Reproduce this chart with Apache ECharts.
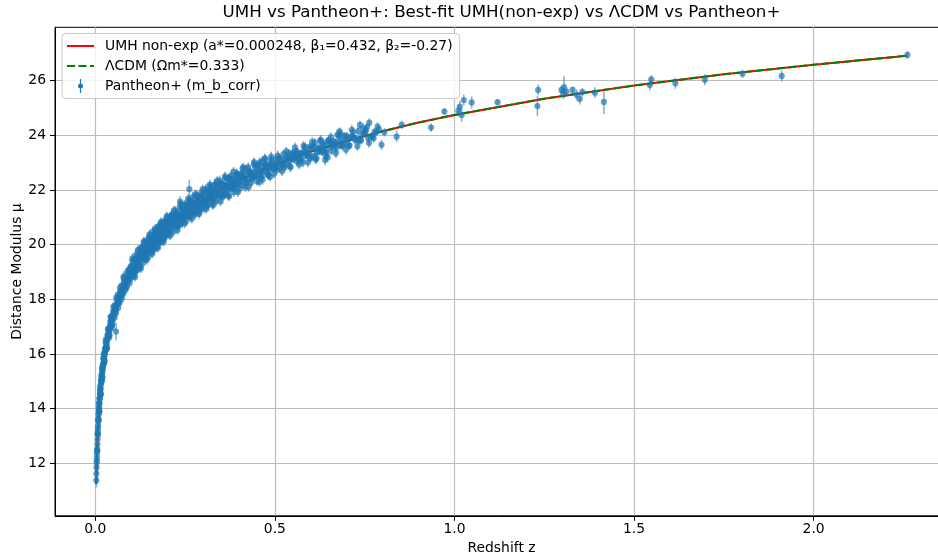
<!DOCTYPE html>
<html>
<head>
<meta charset="utf-8">
<script src="https://cdn.jsdelivr.net/npm/echarts@6/dist/echarts.min.js"></script>
<style>
  html, body { margin: 0; padding: 0; background: #ffffff; }
  #chart { width: 938px; height: 559px; }
</style>
</head>
<body>
<div id="chart"></div>
<script>
// Pantheon+ supernovae: [redshift z, m_b_corr, 1-sigma error]
const lowZ = [
  [0.0031,11.38,0.26],[0.0034,11.62,0.2],[0.0038,11.85,0.18],[0.0041,12.02,0.22],[0.0043,12.10,0.15],
  [0.0047,12.21,0.16],[0.0052,12.47,0.14],[0.0056,12.52,0.12],[0.0060,12.70,0.15],[0.0064,12.88,0.12],
  [0.0068,13.05,0.13],[0.0072,13.18,0.12],[0.0077,13.30,0.14],[0.0081,13.38,0.1],[0.0086,13.56,0.12],
  [0.0090,13.62,0.1],[0.0095,13.78,0.11],[0.0100,13.85,0.1],[0.0104,13.95,0.12],[0.0109,14.03,0.1],
  [0.0113,14.15,0.11],[0.0118,14.22,0.09],[0.0123,14.36,0.1],[0.0128,14.40,0.09],[0.0133,14.52,0.1],
  [0.0139,14.58,0.09],[0.0145,14.70,0.1],[0.0151,14.74,0.09],[0.0157,14.88,0.1],[0.0163,14.95,0.09],
  [0.0169,15.02,0.1],[0.0176,15.12,0.09],[0.0182,15.18,0.1],[0.0189,15.30,0.09],[0.0196,15.33,0.1],
  [0.0203,15.42,0.09],[0.0212,15.48,0.1],[0.0221,15.60,0.09],[0.0229,15.66,0.1],[0.0238,15.79,0.09],
  [0.0246,15.82,0.1],[0.0255,15.93,0.1],[0.0263,15.98,0.09],[0.0272,16.08,0.1],[0.0281,16.10,0.1],
  [0.0290,16.22,0.09],[0.0300,16.25,0.1],[0.0310,16.36,0.1],[0.0320,16.40,0.09],[0.0330,16.52,0.1],
  [0.0341,16.55,0.1],[0.0352,16.65,0.1],[0.0362,16.68,0.09],[0.0374,16.80,0.1],[0.0385,16.82,0.1],
  [0.0396,16.92,0.1],[0.0408,16.95,0.09],[0.0420,17.05,0.1],[0.0432,17.07,0.1],[0.0445,17.18,0.1],
  [0.0458,17.22,0.1],[0.0470,17.28,0.1],[0.0483,17.36,0.1],[0.0497,17.40,0.1],[0.0510,17.47,0.1],
  [0.0524,17.52,0.1],[0.0538,17.60,0.1],[0.0552,17.63,0.11],[0.0566,17.70,0.1],[0.0581,17.75,0.1],
  [0.0596,17.80,0.11],[0.0612,17.85,0.1],[0.0628,17.92,0.1],[0.0644,17.96,0.11],[0.0660,18.02,0.1],
  [0.0677,18.08,0.1],[0.0694,18.12,0.11],[0.0711,18.20,0.1],[0.0729,18.24,0.11],[0.0747,18.30,0.1],
  [0.0765,18.36,0.11],[0.0784,18.42,0.1],[0.0803,18.47,0.11],[0.0822,18.55,0.1],[0.0842,18.58,0.11],
  [0.0862,18.65,0.1],[0.0882,18.70,0.11],[0.0903,18.76,0.1],[0.0924,18.80,0.11],[0.0946,18.86,0.1],
  [0.0968,18.92,0.11],[0.0990,18.97,0.1],
  [0.011,13.92,0.12],[0.012,14.38,0.12],[0.014,14.50,0.11],[0.016,15.03,0.12],[0.018,14.99,0.11],
  [0.021,15.59,0.12],[0.024,15.65,0.11],[0.027,16.20,0.12],[0.031,16.18,0.11],[0.034,16.69,0.12],
  [0.038,16.66,0.12],[0.042,17.19,0.12],[0.046,17.05,0.13],[0.050,17.56,0.12],[0.055,17.48,0.13],
  [0.060,18.00,0.12],[0.065,17.83,0.13],[0.070,18.33,0.12],[0.075,18.16,0.13],[0.080,18.65,0.12],
  [0.085,18.43,0.13],[0.090,18.94,0.12],[0.095,18.73,0.13],[0.098,19.17,0.12],
  [0.013,14.66,0.14],[0.015,14.51,0.13],[0.017,15.22,0.14],[0.019,15.05,0.13],[0.022,15.84,0.14],
  [0.025,15.67,0.13],[0.029,16.43,0.14],[0.033,16.24,0.13],[0.036,16.89,0.14],[0.040,16.69,0.14],
  [0.044,17.37,0.14],[0.048,17.11,0.14],[0.053,17.76,0.15],[0.058,17.51,0.14],[0.063,18.17,0.15],
  [0.068,17.88,0.14],[0.073,18.49,0.15],[0.078,18.21,0.14],[0.083,18.81,0.15],[0.088,18.46,0.15],
  [0.093,19.07,0.15],[0.097,18.72,0.15],
  [0.0105,14.21,0.14],[0.0115,13.90,0.13],[0.0135,14.80,0.15],[0.0155,14.55,0.14],[0.0185,15.47,0.15],
  [0.0205,15.16,0.14],[0.0235,16.01,0.15],[0.0265,15.75,0.14],[0.0295,16.53,0.16],[0.0325,16.19,0.14],
  [0.0355,16.93,0.15],[0.0390,16.60,0.15],[0.0425,17.35,0.16],[0.0465,16.96,0.15],[0.0505,17.71,0.16],
  [0.0545,17.33,0.16],[0.0590,18.07,0.16],[0.0640,17.68,0.16],[0.0690,18.43,0.17],[0.0740,18.02,0.16],
  [0.0790,18.76,0.17],[0.0845,18.34,0.16],[0.0900,19.03,0.17],[0.0955,18.60,0.17],
  [0.0045,12.35,0.15],[0.0058,12.45,0.14],[0.0066,13.10,0.13],[0.0075,13.05,0.12],[0.0083,13.62,0.12],
  [0.0093,13.55,0.11],[0.0098,14.02,0.12],
  [0.058,16.82,0.32],[0.079,18.83,0.2]
];

const midZ = [
  [0.101,19.17,0.14],[0.103,18.89,0.15],[0.105,19.16,0.13],[0.107,19.07,0.14],[0.109,19.45,0.16],
  [0.111,19.02,0.15],[0.113,19.38,0.14],[0.115,19.30,0.13],[0.117,19.57,0.15],[0.119,19.27,0.14],
  [0.121,19.47,0.13],[0.123,19.22,0.16],[0.125,19.66,0.14],[0.127,19.46,0.13],[0.129,19.89,0.17],
  [0.131,19.58,0.14],[0.133,19.73,0.13],[0.135,19.50,0.15],[0.137,19.91,0.14],[0.139,19.63,0.13],
  [0.141,19.84,0.14],[0.143,19.59,0.16],[0.145,20.08,0.15],[0.147,19.82,0.13],[0.149,20.03,0.14],
  [0.151,19.78,0.15],[0.153,20.27,0.17],[0.155,20.00,0.13],[0.157,20.14,0.14],[0.159,19.87,0.15],
  [0.161,20.26,0.14],[0.163,20.02,0.13],[0.165,20.19,0.14],[0.167,19.90,0.16],[0.169,20.46,0.15],
  [0.171,20.19,0.13],[0.173,20.40,0.14],[0.175,20.15,0.15],[0.177,20.67,0.17],[0.179,20.28,0.13],
  [0.181,20.45,0.14],[0.183,20.19,0.15],[0.185,20.63,0.14],[0.187,20.35,0.13],[0.189,20.51,0.14],
  [0.191,20.25,0.16],[0.193,20.81,0.15],[0.195,20.53,0.13],[0.197,20.73,0.14],[0.199,20.43,0.15],
  [0.202,20.86,0.15],[0.205,20.61,0.13],[0.208,20.80,0.14],[0.211,20.51,0.16],[0.214,21.10,0.17],
  [0.217,20.69,0.14],[0.220,20.90,0.13],[0.223,20.69,0.15],[0.226,21.10,0.15],[0.229,20.91,0.13],
  [0.232,21.10,0.14],[0.235,20.73,0.16],[0.238,21.29,0.15],[0.241,20.99,0.13],[0.244,21.14,0.14],
  [0.247,20.97,0.15],[0.250,21.45,0.16],[0.253,21.14,0.13],[0.256,21.37,0.14],[0.259,21.04,0.15],
  [0.262,21.34,0.14],[0.265,21.19,0.14],[0.268,21.55,0.15],[0.271,21.35,0.13],[0.274,21.49,0.14],
  [0.277,21.17,0.16],[0.280,21.75,0.16],[0.283,21.38,0.13],[0.286,21.57,0.14],[0.289,21.37,0.15],
  [0.292,21.71,0.14],[0.295,21.53,0.13],[0.298,21.83,0.15],[0.301,21.43,0.15],[0.304,21.69,0.13],
  [0.307,21.60,0.14],[0.310,21.96,0.16],[0.313,21.45,0.16],[0.316,21.88,0.14],[0.319,21.76,0.13],
  [0.322,21.99,0.15],[0.325,21.68,0.14],[0.328,21.92,0.13],[0.331,21.64,0.15],[0.334,22.20,0.17],
  [0.337,21.84,0.13],[0.340,22.04,0.14],[0.344,21.78,0.15],[0.348,22.21,0.15],[0.352,21.99,0.13],
  [0.356,22.19,0.14],[0.360,21.81,0.16],[0.364,22.16,0.14],[0.368,22.02,0.13],[0.372,22.42,0.16],
  [0.376,22.13,0.14],[0.380,22.38,0.15],[0.384,22.05,0.15],[0.388,22.35,0.13],[0.392,22.20,0.14],
  [0.396,22.56,0.16],[0.400,22.19,0.15],[0.405,22.50,0.14],[0.410,22.17,0.16],[0.415,22.49,0.13],
  [0.420,22.76,0.16],[0.425,22.42,0.14],[0.430,22.69,0.15],[0.435,22.39,0.15],[0.440,22.62,0.13],
  [0.445,22.84,0.15],[0.450,22.52,0.14],[0.455,22.77,0.14],[0.460,22.47,0.16],[0.465,23.05,0.17],
  [0.470,22.71,0.13],[0.475,22.92,0.14],[0.480,22.65,0.15],[0.485,22.90,0.14],[0.490,23.11,0.15],
  [0.495,22.78,0.14],[0.500,22.95,0.13],[0.506,22.74,0.16],[0.512,23.17,0.15],[0.518,22.94,0.14],
  [0.524,23.31,0.16],[0.530,22.92,0.15],[0.536,23.18,0.14],[0.542,22.87,0.16],[0.548,23.30,0.15],
  [0.554,23.16,0.13],[0.560,23.42,0.15],[0.566,23.13,0.14],[0.572,23.32,0.14],[0.578,23.00,0.17],
  [0.584,23.58,0.16],[0.590,23.27,0.14],[0.596,23.49,0.14],[0.602,23.22,0.15],[0.608,23.60,0.15],
  [0.614,23.11,0.17],[0.620,23.50,0.13],[0.626,23.79,0.16],[0.632,23.38,0.14],[0.638,23.62,0.14],
  [0.644,23.35,0.16],[0.650,23.81,0.15],[0.657,23.58,0.14],[0.664,23.78,0.15],[0.671,23.51,0.15],
  [0.678,23.97,0.16],[0.685,23.64,0.14],[0.692,23.81,0.14],[0.700,23.98,0.15],[0.708,23.63,0.16],
  [0.716,23.95,0.14],[0.724,23.82,0.14],[0.732,24.15,0.16],[0.740,23.81,0.15],[0.748,24.11,0.15],
  [0.756,24.30,0.16],[0.763,24.46,0.16],[0.770,23.96,0.15],[0.778,24.13,0.14],[0.786,24.32,0.16],
  [0.102,19.07,0.13],[0.106,18.98,0.14],[0.110,19.42,0.15],[0.114,19.22,0.13],[0.118,19.50,0.14],
  [0.122,19.22,0.15],[0.126,19.80,0.16],[0.130,19.60,0.13],[0.134,19.81,0.14],[0.138,19.57,0.15],
  [0.142,19.89,0.14],[0.146,19.78,0.13],[0.150,20.26,0.17],[0.154,19.79,0.15],[0.158,20.11,0.14],
  [0.162,20.05,0.13],[0.166,20.37,0.15],[0.170,20.10,0.14],[0.174,20.33,0.13],[0.178,20.09,0.16],
  [0.182,20.64,0.15],[0.186,20.42,0.13],[0.190,20.61,0.14],[0.194,20.37,0.15],[0.198,20.77,0.15],
  [0.203,20.55,0.14],[0.209,21.01,0.16],[0.215,20.78,0.13],[0.221,20.99,0.14],[0.227,20.71,0.16],
  [0.233,21.06,0.14],[0.239,20.99,0.13],[0.245,21.34,0.15],[0.251,21.03,0.15],[0.257,21.25,0.13],
  [0.263,21.58,0.16],[0.269,21.16,0.15],[0.275,21.52,0.14],[0.281,21.42,0.13],[0.287,21.71,0.15],
  [0.293,21.30,0.16],[0.299,21.69,0.14],[0.305,21.55,0.14],[0.311,21.87,0.15],[0.317,21.69,0.13],
  [0.323,22.05,0.16],[0.329,21.68,0.15],[0.335,21.92,0.13],[0.341,21.85,0.14],[0.347,22.19,0.15],
  [0.353,21.81,0.16],[0.359,22.16,0.14],[0.365,22.09,0.13],[0.371,22.43,0.16],[0.377,22.05,0.15],
  [0.383,22.28,0.14],[0.389,22.09,0.15],[0.395,22.46,0.15],
  [0.403,22.32,0.14],[0.412,22.60,0.15],[0.422,22.29,0.15],[0.432,22.64,0.14],[0.442,22.47,0.14],
  [0.452,22.91,0.16],[0.462,22.70,0.13],[0.472,22.91,0.14],[0.482,22.56,0.16],[0.492,22.94,0.14],
  [0.503,22.81,0.14],[0.515,23.10,0.15],[0.527,22.82,0.16],[0.539,23.34,0.16],[0.551,23.12,0.14],
  [0.563,23.37,0.15],[0.575,23.12,0.15],[0.587,23.38,0.14],[0.599,23.15,0.16],[0.611,23.73,0.17],
  [0.623,23.40,0.14],[0.635,23.70,0.15],[0.647,23.19,0.18],[0.660,23.67,0.14],[0.674,24.02,0.17],
  [0.688,23.60,0.15],[0.702,23.89,0.14],[0.718,24.12,0.16],[0.735,23.82,0.15],[0.752,24.10,0.15],
  [0.775,23.89,0.16],[0.805,24.11,0.15],
  [0.104,19.39,0.16],[0.108,18.86,0.16],[0.112,19.62,0.17],[0.116,19.05,0.16],[0.120,19.76,0.17],
  [0.124,19.15,0.16],[0.128,19.88,0.17],[0.132,19.31,0.16],[0.136,20.08,0.18],[0.140,19.48,0.16],
  [0.144,20.17,0.17],[0.148,19.55,0.17],[0.152,20.31,0.17],[0.156,19.72,0.16],[0.160,20.48,0.18],
  [0.164,19.82,0.17],[0.168,20.51,0.17],[0.172,19.90,0.18],[0.176,20.67,0.17],[0.180,20.07,0.16],
  [0.184,20.76,0.17],[0.188,20.13,0.17],[0.192,20.86,0.17],[0.196,20.29,0.16],[0.200,20.99,0.18],
  [0.206,20.37,0.17],[0.212,21.08,0.17],[0.218,20.48,0.18],[0.224,21.25,0.17],[0.230,20.67,0.16],
  [0.236,21.41,0.18],[0.242,20.78,0.17],[0.248,21.46,0.17],[0.254,20.87,0.18],[0.260,21.60,0.17],
  [0.266,21.02,0.17],[0.272,21.75,0.18],[0.278,21.10,0.17],[0.284,21.81,0.17],[0.290,21.18,0.18],
  [0.296,21.90,0.17],[0.302,21.32,0.17],[0.308,22.04,0.18],[0.314,21.43,0.17],[0.320,22.13,0.17],
  [0.326,21.48,0.18],[0.332,22.19,0.17],[0.338,21.60,0.17],[0.346,22.35,0.18],[0.354,21.74,0.17],
  [0.362,22.43,0.17],[0.370,21.80,0.18],[0.378,22.52,0.17],[0.386,21.92,0.17],[0.394,22.61,0.18],
  [0.402,22.04,0.17],[0.410,22.77,0.18],[0.418,22.11,0.18],[0.426,22.84,0.17],[0.434,22.26,0.17],
  [0.442,22.95,0.18],[0.450,22.32,0.17],[0.458,23.01,0.18],[0.466,22.38,0.18],[0.474,23.12,0.17],
  [0.482,22.53,0.17],[0.490,23.22,0.18],[0.498,22.59,0.17],[0.508,23.26,0.18],[0.520,22.68,0.18],
  [0.532,23.41,0.17],[0.544,22.83,0.18],[0.556,23.56,0.18],[0.568,22.93,0.17],[0.580,23.61,0.18],
  [0.592,23.01,0.18],[0.604,23.76,0.18],[0.616,23.16,0.17],[0.628,23.83,0.18],[0.642,23.23,0.18],
  [0.656,23.93,0.18],[0.670,23.34,0.17],[0.684,24.03,0.18],[0.698,23.47,0.18],[0.714,24.20,0.18],
  [0.730,23.60,0.17],[0.746,24.24,0.18],[0.762,23.72,0.18],
  [0.100,19.22,0.14],[0.106,19.08,0.13],[0.112,19.04,0.14],[0.118,19.47,0.13],[0.124,19.50,0.14],
  [0.130,19.76,0.14],[0.136,19.57,0.13],[0.142,20.03,0.15],[0.148,19.86,0.13],[0.154,19.78,0.14],
  [0.160,20.18,0.14],[0.166,20.18,0.13],[0.172,20.42,0.15],[0.178,20.21,0.14],[0.184,20.65,0.15],
  [0.190,20.46,0.13],[0.196,20.37,0.14],[0.202,20.73,0.14],[0.208,20.72,0.13],[0.214,20.94,0.15],
  [0.220,20.72,0.14],[0.226,21.15,0.15],[0.232,20.94,0.13],[0.238,20.84,0.14],[0.244,21.20,0.14],
  [0.250,21.18,0.13],[0.256,21.38,0.15],[0.262,21.15,0.14],[0.268,21.57,0.15],[0.274,21.35,0.13],
  [0.280,21.24,0.14],[0.286,21.59,0.14],[0.292,21.56,0.13],[0.298,21.76,0.15],[0.304,21.52,0.14],
  [0.310,21.93,0.15],[0.316,21.71,0.13],[0.322,21.59,0.14],[0.328,21.93,0.14],[0.334,21.90,0.13],
  [0.340,22.09,0.15],[0.346,21.85,0.14],[0.352,22.25,0.15],[0.358,22.02,0.13],[0.364,21.89,0.14],
  [0.370,22.23,0.14],[0.376,22.19,0.13],[0.382,22.38,0.15],[0.388,22.13,0.14],[0.394,22.53,0.15],
  [0.400,22.30,0.14],
  [0.406,22.59,0.15],[0.418,22.27,0.15],[0.430,22.59,0.14],[0.442,22.53,0.14],[0.454,22.88,0.15],
  [0.466,22.54,0.15],[0.478,22.86,0.14],[0.490,22.79,0.14],[0.502,23.13,0.15],[0.514,22.80,0.15],
  [0.526,23.10,0.14],[0.538,23.03,0.14],[0.550,23.37,0.15],[0.562,23.03,0.15],[0.574,23.34,0.14],
  [0.586,23.26,0.14],[0.598,23.59,0.15],[0.610,23.24,0.15],[0.622,23.54,0.14],[0.634,23.45,0.14],
  [0.646,23.78,0.15],[0.658,23.43,0.15],[0.670,23.73,0.14],[0.682,23.64,0.14],[0.694,23.97,0.15],
  [0.706,23.62,0.15],[0.720,23.92,0.14],[0.736,23.84,0.14],[0.754,24.19,0.15],[0.772,23.96,0.15],
  [0.790,24.22,0.15],
  [0.103,19.49,0.17],[0.111,18.82,0.17],[0.119,19.81,0.17],[0.127,19.13,0.17],[0.135,20.11,0.17],
  [0.143,19.43,0.17],[0.151,20.38,0.17],[0.159,19.67,0.17],[0.167,20.59,0.17],[0.175,19.89,0.17],
  [0.183,20.83,0.17],[0.191,20.12,0.17],[0.199,21.04,0.17],[0.209,20.33,0.17],[0.219,21.25,0.17],
  [0.229,20.53,0.17],[0.239,21.48,0.17],[0.249,20.77,0.17],[0.259,21.68,0.17],[0.269,20.95,0.17],
  [0.279,21.85,0.17],[0.289,21.12,0.17],[0.299,22.03,0.17],[0.309,21.30,0.17],[0.319,22.20,0.17],
  [0.329,21.45,0.17],[0.339,22.33,0.17],[0.349,21.58,0.17],[0.361,22.50,0.17],[0.373,21.77,0.17],
  [0.385,22.67,0.17],[0.397,21.92,0.17],[0.412,22.83,0.17],[0.427,22.11,0.17],[0.442,23.02,0.17],
  [0.457,22.29,0.17],[0.472,23.16,0.17],[0.487,22.48,0.17],
  [0.413,22.42,0.14],[0.427,22.63,0.14],[0.437,22.48,0.14],[0.447,22.65,0.14],[0.457,22.57,0.14],
  [0.468,22.83,0.14],[0.478,22.78,0.14],[0.488,22.98,0.14],[0.497,22.82,0.14],[0.509,23.01,0.14],
  [0.521,22.93,0.14],[0.533,23.20,0.14],[0.545,23.13,0.14],[0.557,23.28,0.14],[0.569,23.15,0.14],
  [0.581,23.41,0.14],[0.593,23.33,0.14],[0.605,23.54,0.14],[0.617,23.39,0.14],[0.629,23.54,0.14],
  [0.643,23.47,0.14],[0.655,23.72,0.14],[0.668,23.62,0.14],[0.681,23.78,0.14],[0.696,23.69,0.14],
  [0.711,23.92,0.14],[0.727,23.87,0.14],[0.744,24.02,0.14],[0.760,23.89,0.14],[0.782,24.11,0.14],
  [0.262,22.03,0.35],[0.236,21.57,0.2],[0.680,24.14,0.15],[0.737,24.38,0.15],[0.640,23.10,0.2]
];

const highZ = [
  [0.797,23.65,0.18],[0.839,23.95,0.2],[0.853,24.38,0.15],[0.935,24.28,0.15],[0.972,24.87,0.13],
  [1.011,24.90,0.2],[1.015,25.05,0.2],[1.020,24.74,0.25],[1.026,25.29,0.2],[1.048,25.20,0.22],
  [1.120,25.21,0.12],[1.233,25.66,0.2],[1.231,25.07,0.37],[1.298,25.66,0.15],[1.305,25.76,0.4],
  [1.303,25.54,0.2],[1.312,25.60,0.15],[1.329,25.66,0.12],[1.340,25.48,0.2],[1.349,25.33,0.2],
  [1.356,25.58,0.15],[1.391,25.56,0.2],[1.416,25.22,0.45],[1.544,25.84,0.2],[1.548,26.05,0.15],
  [1.615,25.90,0.2],[1.697,26.03,0.2],[1.802,26.25,0.15],[1.911,26.17,0.2],[2.261,26.94,0.15]
];

// Best-fit model curves sampled along z
const curveZ  = [0.003,0.004,0.005,0.0065,0.008,0.01,0.0125,0.015,0.0175,0.02,0.025,0.03,0.035,0.04,0.05,
                 0.06,0.07,0.08,0.09,0.10,0.12,0.14,0.16,0.18,0.20,0.25,0.30,0.35,0.40,0.50,0.60,0.70,
                 0.80,0.90,1.00,1.25,1.50,1.75,2.00,2.26];
const umhMu   = [11.24,11.86,12.35,12.92,13.37,13.86,14.35,14.75,15.09,15.38,15.875,16.28,16.62,16.92,17.42,
                 17.83,18.18,18.49,18.76,19.00,19.42,19.78,20.10,20.38,20.63,21.17,21.63,22.005,22.35,22.92,
                 23.40,23.79,24.15,24.465,24.745,25.34,25.82,26.23,26.58,26.91];
const lcdmMu  = [11.24,11.86,12.35,12.92,13.37,13.86,14.35,14.75,15.09,15.38,15.875,16.28,16.62,16.92,17.42,
                 17.83,18.18,18.49,18.76,19.00,19.42,19.78,20.10,20.38,20.63,21.17,21.63,22.005,22.35,22.92,
                 23.40,23.79,24.15,24.465,24.745,25.34,25.82,26.23,26.58,26.91];

const xTicks = [0, 0.5, 1.0, 1.5, 2.0];
const yTicks = [12, 14, 16, 18, 20, 22, 24, 26];

const titleText = 'UMH vs Pantheon+: Best-fit UMH(non-exp) vs \u039BCDM vs Pantheon+';
const umhName   = 'UMH non-exp (a*=0.000248, \u03B2\u2081=0.432, \u03B2\u2082=-0.27)';
const lcdmName  = '\u039BCDM (\u03A9m*=0.333)';
const snName    = 'Pantheon+ (m_b_corr)';

const FONT = "'DejaVu Sans', 'Liberation Sans', sans-serif";
const BLUE = '#1f77b4';

const pantheon = lowZ.concat(midZ, highZ);
const zip = (xs, ys) => xs.map((x, i) => [x, ys[i]]);

const chart = echarts.init(document.getElementById('chart'), null, { renderer: 'canvas' });

const axisText = { fontFamily: FONT, fontSize: 13.9, color: '#000' };

chart.setOption({
  animation: false,
  backgroundColor: '#ffffff',
  title: {
    text: titleText,
    left: 501.5,
    top: 4,
    textAlign: 'center',
    padding: 0,
    textStyle: { fontFamily: FONT, fontSize: 16.7, fontWeight: 'normal', color: '#000' }
  },
  legend: {
    orient: 'vertical',
    left: 62,
    top: 33.5,
    padding: [5.5, 7, 5.5, 5],
    itemGap: 6,
    itemWidth: 27,
    itemHeight: 14,
    backgroundColor: 'rgba(255,255,255,0.8)',
    borderColor: '#cccccc',
    borderWidth: 1,
    borderRadius: 4,
    textStyle: { fontFamily: FONT, fontSize: 13.9, color: '#000', padding: [0, 0, 0, 6] },
    data: [
      { name: umhName,  icon: 'path://M0,0H27V2H0Z' },
      { name: lcdmName, icon: 'path://M0,0H8V2H0Z M11.5,0H19.5V2H11.5Z M23,0H27V2H23Z' },
      { name: snName,   icon: 'path://M2.4,0H3.6V14H2.4Z M5.5,7A2.5,2.5 0 1 1 0.5,7A2.5,2.5 0 1 1 5.5,7Z' }
    ]
  },
  grid: {
    left: 55, top: 27.3, width: 893, height: 488.5,
    outerBoundsMode: 'none',
    containLabel: false,
    show: true, borderColor: '#000', borderWidth: 1, backgroundColor: 'transparent'
  },
  xAxis: {
    type: 'value',
    min: -0.112, max: 2.374,
    name: 'Redshift z',
    nameLocation: 'middle',
    nameGap: 26,
    nameMoveOverlap: false,
    nameTextStyle: axisText,
    axisLine: { onZero: false, lineStyle: { color: '#000', width: 1 } },
    axisTick: { show: true, length: 5, customValues: xTicks, lineStyle: { color: '#000', width: 1 } },
    axisLabel: { customValues: xTicks, formatter: v => v.toFixed(1), margin: 7, ...axisText },
    splitLine: { show: true, lineStyle: { color: '#bdbdbd', width: 1.2 } }
  },
  yAxis: {
    type: 'value',
    min: 10.08, max: 27.95,
    name: 'Distance Modulus \u03BC',
    nameLocation: 'middle',
    nameGap: 31,
    nameMoveOverlap: false,
    nameTextStyle: axisText,
    axisLine: { onZero: false, lineStyle: { color: '#000', width: 1 } },
    axisTick: { show: true, length: 5, customValues: yTicks, lineStyle: { color: '#000', width: 1 } },
    axisLabel: { customValues: yTicks, formatter: v => String(v), margin: 9, ...axisText },
    splitLine: { show: true, lineStyle: { color: '#bdbdbd', width: 1.2 } }
  },
  series: [
    {
      name: umhName,
      type: 'line',
      color: '#ff0000',
      data: zip(curveZ, umhMu),
      symbol: 'none',
      z: 2,
      lineStyle: { color: '#ff0000', width: 2 }
    },
    {
      name: lcdmName,
      type: 'line',
      color: '#008000',
      data: zip(curveZ, lcdmMu),
      symbol: 'none',
      z: 2,
      lineStyle: { color: '#008000', width: 2, type: [7.7, 3.3] }
    },
    {
      // vertical error bars
      name: snName,
      type: 'custom',
      color: BLUE,
      z: 3,
      data: pantheon,
      encode: { x: 0, y: 1 },
      renderItem: (params, api) => {
        const z = api.value(0), mu = api.value(1), e = api.value(2);
        const top = api.coord([z, mu + e]);
        const bot = api.coord([z, mu - e]);
        return {
          type: 'line',
          shape: { x1: top[0], y1: top[1], x2: bot[0], y2: bot[1] },
          style: { stroke: BLUE, lineWidth: 1.6, opacity: 0.55 }
        };
      }
    },
    {
      // point markers
      name: snName,
      type: 'scatter',
      color: BLUE,
      z: 4,
      symbol: 'circle',
      symbolSize: 6.2,
      data: pantheon.map(p => [p[0], p[1]]),
      itemStyle: { color: BLUE, opacity: 0.7 }
    }
  ]
});
</script>
</body>
</html>
